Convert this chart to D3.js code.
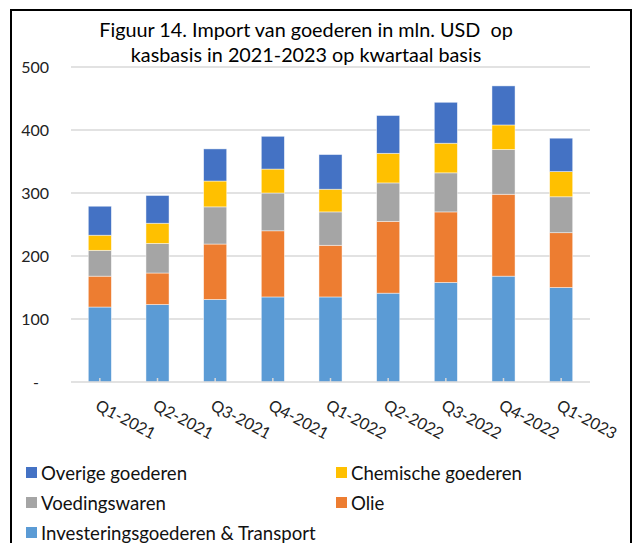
<!DOCTYPE html>
<html>
<head>
<meta charset="utf-8">
<script src="https://cdn.jsdelivr.net/npm/d3@7"></script>
<style>
  html, body { margin: 0; padding: 0; background: #fff; }
  svg { display: block; font-family: Lato, "Open Sans", sans-serif; }
  .title { white-space: pre; }
</style>
</head>
<body>
<svg id="chart" width="633" height="543"></svg>
<script>
const categories = ["Q1-2021","Q2-2021","Q3-2021","Q4-2021","Q1-2022","Q2-2022","Q3-2022","Q4-2022","Q1-2023"];
const invest   = [119, 123, 131, 135, 135, 141, 158, 168, 150];
const olie     = [ 49,  50,  88, 105,  82, 114, 112, 130,  87];
const voeding  = [ 41,  47,  59,  60,  53,  61,  62,  71,  57];
const chemisch = [ 24,  32,  41,  38,  36,  47,  47,  39,  40];
const overige  = [ 46,  44,  51,  52,  55,  60,  65,  62,  53];
const yTicks = [0, 100, 200, 300, 400, 500];
const titleLines = ["Figuur 14. Import van goederen in mln. USD  op", "kasbasis in 2021-2023 op kwartaal basis"];

const seriesDefs = [
  { key: "invest",   name: "Investeringsgoederen & Transport", color: "#5B9BD5", values: invest },
  { key: "olie",     name: "Olie",               color: "#ED7D31", values: olie },
  { key: "voeding",  name: "Voedingswaren",      color: "#A5A5A5", values: voeding },
  { key: "chemisch", name: "Chemische goederen", color: "#FFC000", values: chemisch },
  { key: "overige",  name: "Overige goederen",   color: "#4472C4", values: overige }
];

const rows = categories.map((c, i) => {
  const r = { cat: c };
  seriesDefs.forEach(s => r[s.key] = s.values[i]);
  return r;
});

const svg = d3.select("#chart");

// outer border
svg.append("rect").attr("x", 11).attr("y", 10).attr("width", 620).attr("height", 560)
  .attr("fill", "none").attr("stroke", "#000").attr("stroke-width", 2);

// title
svg.append("g").selectAll("text").data(titleLines).join("text")
  .attr("class", "title")
  .attr("x", 306).attr("y", (d, i) => 37 + i * 25)
  .attr("text-anchor", "middle").attr("font-size", 19.8).attr("fill", "#000")
  .text(d => d);

const x = d3.scaleBand().domain(categories).range([71, 590]).paddingInner(0.6).paddingOuter(0.3);
const y = d3.scaleLinear().domain([0, 500]).range([382, 67]);

// gridlines
svg.append("g").selectAll("line").data(yTicks.slice(1)).join("line")
  .attr("x1", 71).attr("x2", 590).attr("y1", d => y(d)).attr("y2", d => y(d))
  .attr("stroke", "#D9D9D9").attr("stroke-width", 1.5);

// y axis labels
const yAxis = d3.axisLeft(y).tickValues(yTicks).tickSize(0).tickPadding(0)
  .tickFormat(d => d === 0 ? "-" : d3.format("d")(d));
const gy = svg.append("g").attr("transform", "translate(49,0)").call(yAxis);
gy.select(".domain").remove();
gy.selectAll("text").attr("font-size", 16).attr("fill", "#222").attr("font-family", "Lato, sans-serif")
  .attr("dy", "0.35em");
gy.selectAll(".tick").filter(d => d === 0).select("text").attr("dx", -10);

// stacked bars
const stack = d3.stack().keys(seriesDefs.map(s => s.key));
const stacked = stack(rows);
svg.append("g").selectAll("g").data(stacked).join("g")
  .attr("fill", (d, i) => seriesDefs[i].color)
  .selectAll("rect").data(d => d).join("rect")
  .attr("x", d => x(d.data.cat))
  .attr("width", x.bandwidth())
  .attr("y", d => y(d[1]))
  .attr("height", d => y(d[0]) - y(d[1]))
  .attr("stroke", "#fff").attr("stroke-opacity", 0.6).attr("stroke-width", 0.75);

// x axis
const xAxis = d3.axisBottom(x).tickSize(0).tickPadding(0);
const gx = svg.append("g").attr("transform", "translate(0,382)").call(xAxis);
gx.select(".domain").attr("stroke", "#D9D9D9").attr("stroke-width", 1.5)
  .attr("d", "M71,0H590");
gx.selectAll(".tick").append("line").attr("y1", -4).attr("y2", 0)
  .attr("stroke", "#D9D9D9").attr("stroke-width", 1.5);
gx.selectAll("text")
  .attr("font-size", 16).attr("fill", "#222").attr("font-family", "Lato, sans-serif")
  .attr("text-anchor", "start")
  .attr("transform", "translate(-3,22) rotate(28)")
  .attr("dy", "0.35em");

// legend
const legendItems = [
  { s: seriesDefs[4], col: 0, row: 0 },
  { s: seriesDefs[3], col: 1, row: 0 },
  { s: seriesDefs[2], col: 0, row: 1 },
  { s: seriesDefs[1], col: 1, row: 1 },
  { s: seriesDefs[0], col: 0, row: 2 }
];
const lg = svg.append("g").selectAll("g").data(legendItems).join("g")
  .attr("transform", d => `translate(${d.col === 0 ? 26 : 336},${473 + d.row * 30})`);
lg.append("rect").attr("x", 0).attr("y", -6).attr("width", 11).attr("height", 11)
  .attr("fill", d => d.s.color);
lg.append("text").attr("x", 15).attr("y", 0).attr("dy", "0.35em")
  .attr("font-size", 18.6).attr("fill", "#111").text(d => d.s.name);
</script>
</body>
</html>
